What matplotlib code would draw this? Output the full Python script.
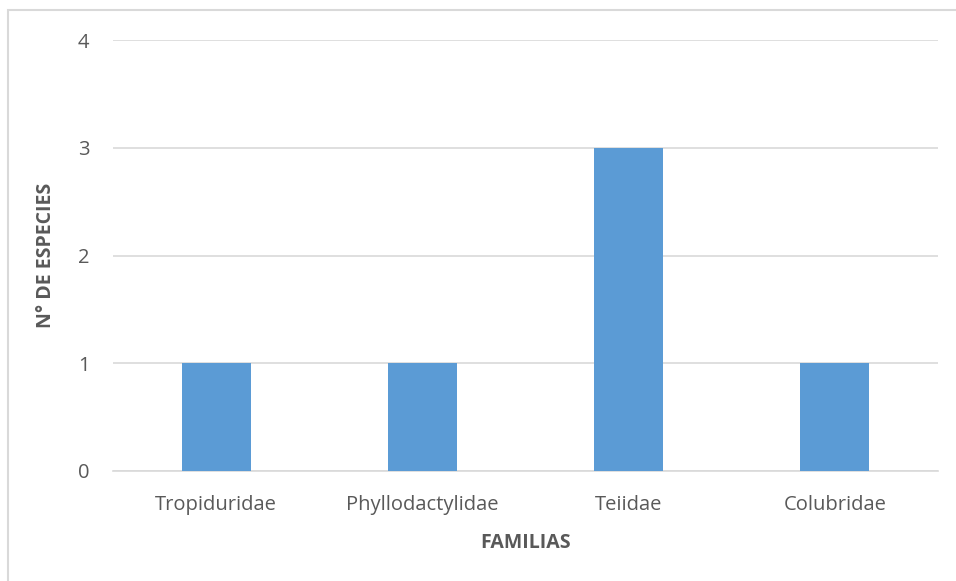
import matplotlib.pyplot as plt
from matplotlib.patches import Rectangle

familias = ['Tropiduridae', 'Phyllodactylidae', 'Teiidae', 'Colubridae']
especies = [1, 1, 3, 1]

plt.rcParams['font.family'] = ['Open Sans', 'DejaVu Sans']

fig = plt.figure(figsize=(9.56, 5.81), dpi=100)
ax = fig.add_axes([113/956, 1 - 471/581, (938 - 113)/956, (471 - 40)/581])

x = range(len(familias))
ax.bar(x, especies, width=0.334, color='#5B9BD5', zorder=3)

ax.set_xlim(-0.5, len(familias) - 0.5)
ax.set_ylim(0, 4)
ax.set_yticks([0, 1, 2, 3, 4])
ax.set_xticks(list(x))
ax.set_xticklabels(familias)

ax.yaxis.grid(True, color='#D9D9D9', linewidth=1.2, zorder=0)
for s in ['top', 'right', 'left']:
    ax.spines[s].set_visible(False)
ax.spines['bottom'].set_color('#D9D9D9')
ax.spines['bottom'].set_linewidth(1.2)
ax.tick_params(axis='both', length=0, labelsize=14.5, colors='#595959')
ax.tick_params(axis='y', pad=17)
ax.tick_params(axis='x', pad=17)

ax.set_xlabel('FAMILIAS', fontsize=14, fontweight='bold', color='#595959', labelpad=13)
ax.set_ylabel('N° DE ESPECIES', fontsize=14, fontweight='bold', color='#595959', labelpad=16)

# marco del gráfico
fig.patches.append(Rectangle((8/956, -0.1), 1.2, 1 - 10/581 + 0.1, transform=fig.transFigure,
                             fill=False, edgecolor='#D9D9D9', linewidth=1.5))

fig.savefig('out.png', dpi=100)
